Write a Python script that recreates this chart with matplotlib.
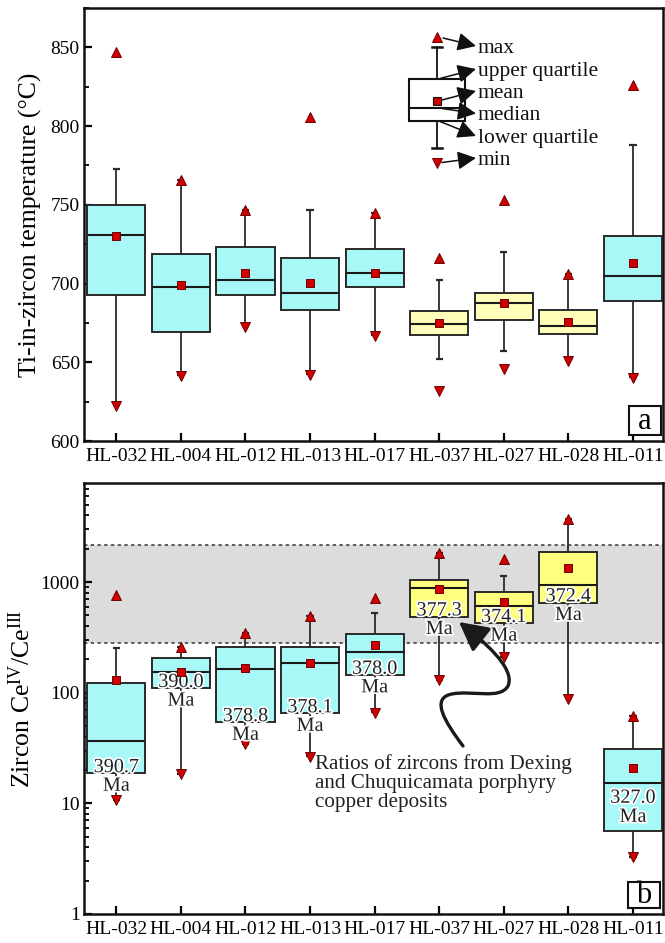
import matplotlib
matplotlib.use('Agg')
import matplotlib.pyplot as plt
import numpy as np
from matplotlib.patches import Rectangle, FancyArrowPatch
from matplotlib.path import Path
import matplotlib.patheffects as pe
from matplotlib.ticker import FixedLocator, NullFormatter, FixedFormatter

plt.rcParams['font.family'] = ['Liberation Serif', 'DejaVu Serif']
plt.rcParams['mathtext.fontset'] = 'custom'
plt.rcParams['mathtext.rm'] = 'Liberation Serif'
plt.rcParams['mathtext.it'] = 'Liberation Serif:italic'

# ---------------- data ----------------
samples = ['HL-032', 'HL-004', 'HL-012', 'HL-013', 'HL-017',
           'HL-037', 'HL-027', 'HL-028', 'HL-011']
groups = ['c', 'c', 'c', 'c', 'c', 'y', 'y', 'y', 'c']

# panel a: Ti-in-zircon temperature (deg C)
t_max = [847, 766, 747, 806, 745, 716, 753, 706, 826]
t_whi_hi = [773, 766, 747, 747, 745, 702, 720, 706, 788]
t_q3 = [750, 719, 723, 716, 722, 682.5, 694, 683, 730]
t_med = [731, 697.5, 702, 694, 706.5, 674.5, 687.5, 673, 705]
t_mean = [730, 699, 707, 700.5, 707, 675, 687.5, 675.5, 713]
t_q1 = [692.5, 669, 692.5, 683, 697.5, 667.5, 677, 668, 689]
t_whi_lo = [623, 642, 673, 642.5, 667.5, 652, 657, 651.5, 640.5]
t_min = [622.5, 641.5, 672.5, 642, 667, 632, 646, 651, 640]

# panel b: zircon Ce4+/Ce3+
c_max = [766, 261, 345, 498, 714, 1824, 1610, 3700, 61.7]
c_whi_hi = [252, 261, 345, 498, 523, 1824, 1138, 3700, 61.7]
c_q3 = [122, 205, 258, 261, 340, 1047, 821, 1849, 30.8]
c_med = [36.9, 155, 164, 187, 235, 881, 601, 944, 15.2]
c_mean = [130, 153, 166, 185, 272, 868, 657, 1334, 21.0]
c_q1 = [18.7, 110, 54, 65, 145, 488, 425, 653, 5.63]
c_whi_lo = [10.8, 18.6, 34.6, 26.6, 66.5, 131, 210, 89, 3.28]
c_min = [10.7, 18.5, 34.4, 26.5, 66, 130, 209, 88, 3.25]

ages = ['390.7', '390.0', '378.8', '378.1', '378.0', '377.3', '374.1', '372.4', '327.0']
age_inside = [False, False, False, False, False, False, False, False, True]

band_lo, band_hi = 280, 2170  # Dexing & Chuquicamata range

a_ticks = [600, 650, 700, 750, 800, 850]
b_ticks = [1, 10, 100, 1000]
b_ticklabels = ['1', '10', '100', '1000']

# ---------------- style ----------------
CYAN = '#A9F8F8'
YEL_A = '#FFFFB9'
YEL_B = '#FFFF7E'
RED = '#D10000'
REDE = '#6E0000'
EDGE = '#2a2a2a'
LAB_FS = 14

W, H = 665, 943
fig = plt.figure(figsize=(W / 100, H / 100), dpi=100)


def fx(px):
    return px / W


def fy(py):
    return 1 - py / H


ax_a = fig.add_axes([fx(84), fy(441), fx(663) - fx(84), fy(8) - fy(441)])
ax_b = fig.add_axes([fx(84), fy(914), fx(663) - fx(84), fy(483) - fy(914)])

x = np.arange(1, len(samples) + 1)
BW = 0.9
CAP = 0.055


def draw(ax, q1, q3, med, mean, wlo, whi, mn, mx, ycol):
    q1, q3, med, mean = map(np.asarray, (q1, q3, med, mean))
    cols = [CYAN if g == 'c' else ycol for g in groups]
    ax.vlines(x, q3, whi, color=EDGE, lw=1.3, zorder=2)
    ax.vlines(x, wlo, q1, color=EDGE, lw=1.3, zorder=2)
    ax.hlines(whi, x - CAP, x + CAP, color=EDGE, lw=1.6, zorder=2)
    ax.hlines(wlo, x - CAP, x + CAP, color=EDGE, lw=1.6, zorder=2)
    ax.bar(x, q3 - q1, bottom=q1, width=BW, color=cols, edgecolor=EDGE,
           linewidth=1.4, zorder=3)
    ax.hlines(med, x - BW / 2, x + BW / 2, color='#1a1a1a', lw=1.5, zorder=4)
    ax.plot(x, mean, 's', ms=6.3, mfc=RED, mec=REDE, mew=0.7, zorder=8, ls='none')
    ax.plot(x, mx, '^', ms=7.8, mfc=RED, mec=REDE, mew=0.7, zorder=6, ls='none')
    ax.plot(x, mn, 'v', ms=7.8, mfc=RED, mec=REDE, mew=0.7, zorder=6, ls='none')


def style_axes(ax):
    for s in ax.spines.values():
        s.set_linewidth(1.8)
        s.set_color('#111111')
    ax.set_xlim(0.5, 9.465)
    ax.set_xticks(x)
    ax.set_xticklabels(samples, fontsize=LAB_FS)
    ax.tick_params(axis='both', which='both', direction='in', top=False, right=False)
    ax.tick_params(axis='both', which='major', length=6, width=1.6, labelsize=LAB_FS)
    ax.tick_params(axis='y', which='minor', length=3.5, width=1.3)
    ax.tick_params(axis='x', which='major', pad=5)
    ax.tick_params(axis='y', which='major', pad=3)


# ---------- panel a ----------
draw(ax_a, t_q1, t_q3, t_med, t_mean, t_whi_lo, t_whi_hi, t_min, t_max, YEL_A)
style_axes(ax_a)
ax_a.set_ylim(600, 875)
ax_a.yaxis.set_major_locator(FixedLocator(a_ticks))
ax_a.yaxis.set_minor_locator(FixedLocator(list(np.arange(625, 876, 50))))
ax_a.set_ylabel('Ti-in-zircon temperature (\u00b0C)', fontsize=18.5, labelpad=6)

# panel label a
ax_a.add_patch(Rectangle((0.9413, 0.0139), 0.0552, 0.0669, transform=ax_a.transAxes,
                         facecolor='white', edgecolor='#111111', lw=1.5, zorder=8))
ax_a.text(0.969, 0.046, 'a', transform=ax_a.transAxes, ha='center', va='center',
          fontsize=22, zorder=9)

# legend key for box plot (figure pixel coords)
T = fig.transFigure
kx = 437
fig.add_artist(Rectangle((fx(409), fy(121)), fx(465) - fx(409), fy(79) - fy(121),
                         transform=T, facecolor='white', edgecolor='#111111', lw=1.5))
fig.add_artist(plt.Line2D([fx(kx), fx(kx)], [fy(79), fy(47)], transform=T, color='#111111', lw=1.3))
fig.add_artist(plt.Line2D([fx(kx), fx(kx)], [fy(121), fy(148)], transform=T, color='#111111', lw=1.3))
fig.add_artist(plt.Line2D([fx(kx - 5), fx(kx + 5)], [fy(47), fy(47)], transform=T, color='#111111', lw=1.8))
fig.add_artist(plt.Line2D([fx(kx - 5), fx(kx + 5)], [fy(148), fy(148)], transform=T, color='#111111', lw=1.8))
fig.add_artist(plt.Line2D([fx(409), fx(465)], [fy(108), fy(108)], transform=T, color='#111111', lw=1.5))
fig.add_artist(plt.Line2D([fx(kx)], [fy(100.7)], transform=T, marker='s', ms=6.3,
                          mfc=RED, mec='#111111', mew=0.8))
fig.add_artist(plt.Line2D([fx(kx)], [fy(37)], transform=T, marker='^', ms=7.8,
                          mfc=RED, mec=REDE, mew=0.7))
fig.add_artist(plt.Line2D([fx(kx)], [fy(163)], transform=T, marker='v', ms=7.8,
                          mfc=RED, mec=REDE, mew=0.7))

key_items = [('max', (443, 38), 46),
             ('upper quartile', (440, 78.5), 69),
             ('mean', (442, 100), 91),
             ('median', (442, 108.5), 113.5),
             ('lower quartile', (440, 121.5), 136),
             ('min', (442, 162.5), 158)]
for label, (sx, sy), ty in key_items:
    fig.add_artist(FancyArrowPatch((fx(sx), fy(sy)), (fx(476), fy(ty)), transform=T,
                                   arrowstyle='-|>,head_length=0.8,head_width=0.4',
                                   mutation_scale=14, color='#111111', lw=1.1,
                                   shrinkA=0, shrinkB=0))
    fig.text(fx(478), fy(ty), label, ha='left', va='center_baseline', fontsize=15.5,
             color='#111111')

# ---------- panel b ----------
ax_b.set_yscale('log')
ax_b.axhspan(band_lo, band_hi, facecolor='#dcdcdc', edgecolor='none', zorder=0)
for v in (band_lo, band_hi):
    ax_b.axhline(v, color='#333333', lw=1.1, ls=(0, (2.2, 2.2)), zorder=1)
draw(ax_b, c_q1, c_q3, c_med, c_mean, c_whi_lo, c_whi_hi, c_min, c_max, YEL_B)
style_axes(ax_b)
ax_b.set_ylim(1, 7850)
ax_b.yaxis.set_major_locator(FixedLocator(b_ticks))
ax_b.yaxis.set_major_formatter(FixedFormatter(b_ticklabels))
minors = [m * d for d in (1, 10, 100, 1000) for m in range(2, 10) if m * d < 7850]
ax_b.yaxis.set_minor_locator(FixedLocator(minors))
ax_b.yaxis.set_minor_formatter(NullFormatter())
ax_b.set_ylabel('Zircon Ce$^{\\mathrm{IV}}$/Ce$^{\\mathrm{III}}$', fontsize=18.5, labelpad=4)

halo = [pe.withStroke(linewidth=2.5, foreground='white')]
AGE_FS = 14.5
for xi, q1v, age, inside in zip(x, c_q1, ages, age_inside):
    if inside:
        ax_b.annotate(age + '\nMa', (xi, q1v), xytext=(0, 3), textcoords='offset points',
                      ha='center', va='bottom', fontsize=AGE_FS, linespacing=1.0,
                      color='#222222', path_effects=halo, zorder=7)
    else:
        ax_b.annotate(age, (xi, q1v), xytext=(0, 0.8), textcoords='offset points',
                      ha='center', va='baseline', fontsize=AGE_FS, color='#222222',
                      path_effects=halo, zorder=7)
        ax_b.annotate('Ma', (xi, q1v), xytext=(0, -2.5), textcoords='offset points',
                      ha='center', va='top', fontsize=AGE_FS, color='#222222',
                      path_effects=halo, zorder=7)

ax_b.add_patch(Rectangle((0.9396, 0.0139), 0.0552, 0.0603, transform=ax_b.transAxes,
                         facecolor='white', edgecolor='#111111', lw=1.5, zorder=8))
ax_b.text(0.967, 0.044, 'b', transform=ax_b.transAxes, ha='center', va='center',
          fontsize=22, zorder=9)

# annotation text + curvy arrow
fig.text(fx(315), fy(754), 'Ratios of zircons from Dexing\nand Chuquicamata porphyry\ncopper deposits',
         ha='left', va='top', fontsize=15.2, linespacing=1.0, color='#222222')

pts = [(463, 746),
       (445, 722), (430, 698), (452, 694),
       (472, 690), (500, 700), (508, 686),
       (516, 668), (482, 640), (459, 622)]
verts = [(fx(a), fy(b)) for a, b in pts]
codes = [Path.MOVETO] + [Path.CURVE4] * 9
fig.add_artist(FancyArrowPatch(path=Path(verts, codes), transform=T,
                               arrowstyle='-|>,head_length=0.8,head_width=0.42',
                               mutation_scale=22, color='#1a1a1a', lw=2.4))

fig.savefig('out.png', dpi=100)
